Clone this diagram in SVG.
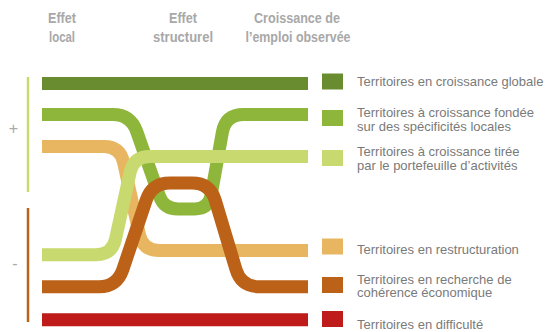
<svg xmlns="http://www.w3.org/2000/svg" width="550" height="332" viewBox="0 0 550 332">
<style>
.hdr{font-family:"Liberation Sans Narrow","Liberation Sans",sans-serif;font-weight:bold;font-size:14px;fill:#a8a8a8;text-anchor:middle}
.lg{font-family:"Liberation Sans",Arial,sans-serif;font-size:13px;fill:#7a7a7a}
.ln{fill:none;stroke-width:13;stroke-linecap:butt;stroke-linejoin:round}
.sign{font-family:"Liberation Sans",Arial,sans-serif;font-size:16px;fill:#aaaaaa;text-anchor:middle}
</style>
<rect width="550" height="332" fill="#ffffff"/>
<g id="headers">
<text class="hdr" x="62" y="22.5" textLength="28" lengthAdjust="spacingAndGlyphs">Effet</text>
<text class="hdr" x="62" y="41.5" textLength="26" lengthAdjust="spacingAndGlyphs">local</text>
<text class="hdr" x="183" y="22.5" textLength="28" lengthAdjust="spacingAndGlyphs">Effet</text>
<text class="hdr" x="183" y="41.5" textLength="60" lengthAdjust="spacingAndGlyphs">structurel</text>
<text class="hdr" x="297" y="22.5" textLength="86" lengthAdjust="spacingAndGlyphs">Croissance de</text>
<text class="hdr" x="298" y="41.5" textLength="105" lengthAdjust="spacingAndGlyphs">l’emploi observée</text>
</g>
<g id="axis">
<line x1="28" y1="77" x2="28" y2="192" stroke="#c8d96f" stroke-width="2.5"/>
<line x1="28" y1="208" x2="28" y2="322" stroke="#bb6218" stroke-width="2.5"/>
<text class="sign" x="13.5" y="134">+</text>
<text class="sign" x="15" y="269">-</text>
</g>
<g id="connectors">
<path id="c-globale" class="ln" stroke="#6a8c31" d="M42,83.5 H308"/>
<path id="c-difficulte" class="ln" stroke="#be1b1a" d="M42,319.7 H308"/>
<path id="c-specificites" class="ln" stroke="#8db63b" d="M42,114.5 H112.8 Q130.8,114.5 136.7,131.5 L159.4,196 Q164,209 178,209 H194.6 Q208.6,209 211.1,195.2 L222.4,132.2 Q225.6,114.5 243.6,114.5 H308"/>
<path id="c-restructuration" class="ln" stroke="#e8b661" d="M42,146.5 H104 Q120,146.5 123.5,162.1 L139.5,234.9 Q143,250.5 159,250.5 H308"/>
<path id="c-portefeuille" class="ln" stroke="#c8d96f" d="M42,254.7 H96 Q112,254.7 115.5,239.1 L130.2,172.1 Q133.7,156.5 149.7,156.5 H308"/>
<path id="c-coherence" class="ln" stroke="#bb6218" d="M42,286.7 H99 Q117,286.7 122.8,269.6 L146.2,200.1 Q152,183 170,183 H192 Q210,183 215.2,200.2 L236,269.5 Q241.2,286.7 259.2,286.7 H308"/>
</g>
<g id="legend-globale">
<rect x="322" y="73.5" width="21" height="16" fill="#6a8c31"/>
<text class="lg" x="357" y="86">Territoires en croissance globale</text>
</g>
<g id="legend-specificites">
<rect x="322" y="110" width="21" height="16" fill="#8db63b"/>
<text class="lg" x="357" y="117">Territoires à croissance fondée</text>
<text class="lg" x="357" y="131">sur des spécificités locales</text>
</g>
<g id="legend-portefeuille">
<rect x="322" y="150" width="21" height="16" fill="#c8d96f"/>
<text class="lg" x="357" y="156">Territoires à croissance tirée</text>
<text class="lg" x="357" y="170">par le portefeuille d’activités</text>
</g>
<g id="legend-restructuration">
<rect x="322" y="238.5" width="21" height="16" fill="#e8b661"/>
<text class="lg" x="357" y="254">Territoires en restructuration</text>
</g>
<g id="legend-coherence">
<rect x="322" y="277" width="21" height="16" fill="#bb6218"/>
<text class="lg" x="357" y="283.5">Territoires en recherche de</text>
<text class="lg" x="357" y="297">cohérence économique</text>
</g>
<g id="legend-difficulte">
<rect x="322" y="311" width="21" height="16" fill="#be1b1a"/>
<text class="lg" x="357" y="328.5">Territoires en difficulté</text>
</g>
</svg>
